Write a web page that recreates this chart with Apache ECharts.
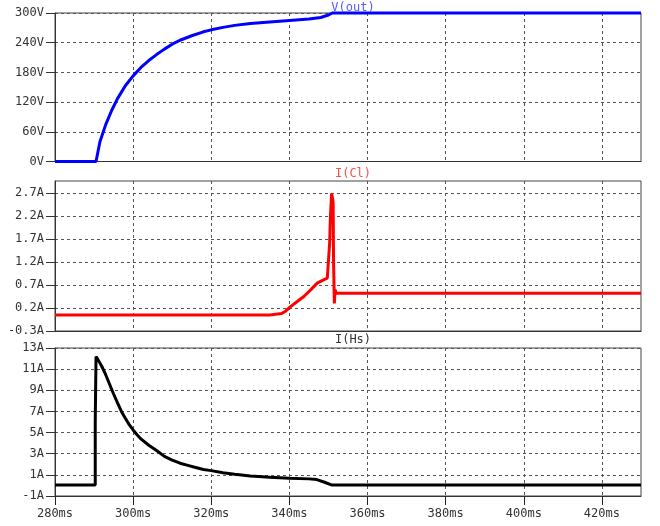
<!DOCTYPE html>
<html><head><meta charset="utf-8">
<script src="https://cdn.jsdelivr.net/npm/echarts@6/dist/echarts.min.js"></script>
<style>html,body{margin:0;padding:0;background:#fff}#c{width:660px;height:526px}</style>
</head><body><div id="c"></div><script>
// ---- data (time in ms) ----
var vTime = [280, 290.5, 291.5, 293, 294.5, 296, 298, 300, 302, 304, 306, 308, 310, 312, 315, 318, 320, 323, 326, 330, 335, 340, 345, 348, 350, 351, 430];
var vOut  = [0, 0, 40, 75, 103, 127, 153, 173, 190, 204, 216, 227, 237, 245, 254, 262, 266, 271, 275, 279, 282, 285, 288, 291, 296, 300, 300];

var iClTime = [280, 335, 335.5, 338, 339, 340.3, 342, 343.7, 345.5, 347.1, 348.5, 349.7, 350.1, 350.3, 350.5, 350.8, 351.0, 351.2, 351.3, 351.5, 351.7, 352, 430];
var iCl     = [0.05, 0.05, 0.07, 0.08, 0.13, 0.23, 0.34, 0.45, 0.6, 0.74, 0.8, 0.85, 0.88, 1.61, 2.18, 2.69, 2.6, 2.5, 1.24, 0.3, 0.6, 0.52, 0.52];

var iHsTime = [280, 290.3, 290.3, 290.5, 290.5, 291, 292, 293, 294, 295, 296, 297, 298, 299, 300, 301, 302, 304, 306, 308, 310, 312, 314, 316, 318, 320, 323, 326, 330, 335, 340, 345, 347, 349, 350.9, 430];
var iHs     = [0.05, 0.05, 6.0, 6.0, 12.2, 11.9, 11.25, 10.45, 9.55, 8.65, 7.8, 7.0, 6.35, 5.75, 5.25, 4.8, 4.4, 3.8, 3.3, 2.75, 2.4, 2.1, 1.9, 1.7, 1.5, 1.4, 1.2, 1.05, 0.9, 0.78, 0.68, 0.62, 0.55, 0.3, 0.03, 0.03];

var xTicks   = [280, 300, 320, 340, 360, 380, 400, 420];
var vTicks   = [0, 60, 120, 180, 240, 300];
var iClTicks = [-0.3, 0.2, 0.7, 1.2, 1.7, 2.2, 2.7];
var iHsTicks = [-1, 1, 3, 5, 7, 9, 11, 13];

function pairs(t, v) { return t.map(function (x, i) { return [x, v[i]]; }); }

var mono = 'DejaVu Sans Mono';
var grids = [
  { left: 55, right: 19, top: 13, height: 148.5 },
  { left: 55, right: 19, top: 181, height: 150 },
  { left: 55, right: 19, top: 348, height: 148 }
];
grids.forEach(function (g) { g.show = true; g.borderColor = '#444'; g.borderWidth = 1; g.backgroundColor = 'transparent'; });

function xAxis(i) {
  var last = i === 2;
  return {
    type: 'value', gridIndex: i, min: 280, max: 430, interval: 20,
    axisLine: { show: true, onZero: false, lineStyle: { color: '#333', width: 1 } },
    axisTick: { show: last, inside: false, length: 9, lineStyle: { color: '#222', width: 1 }, customValues: xTicks },
    axisLabel: { show: last, customValues: xTicks, margin: 12, fontFamily: mono, fontSize: 12, color: '#333',
      formatter: function (v) { return v + 'ms'; } },
    splitLine: { show: true, lineStyle: { type: [3, 3], color: '#555', width: 1 } }
  };
}
function yAxis(i, min, max, ticks, unit) {
  return {
    type: 'value', gridIndex: i, min: min, max: max,
    axisLine: { show: true, onZero: false, lineStyle: { color: '#333', width: 1 } },
    axisTick: { show: true, length: 9, lineStyle: { color: '#333' }, customValues: ticks },
    axisLabel: { customValues: ticks, margin: 11, fontFamily: mono, fontSize: 12, color: '#333',
      formatter: function (v) { return (Math.round(v * 10) / 10) + unit; } },
    splitLine: { show: true, lineStyle: { type: [3, 3], color: '#555', width: 1 } }
  };
}

var chart = echarts.init(document.getElementById('c'));
chart.setOption({
  animation: false,
  backgroundColor: '#fff',
  title: [
    { text: 'V(out)', left: 348, top: -3, textAlign: 'center', textStyle: { fontFamily: mono, fontSize: 12, fontWeight: 'normal', color: '#5a5aff' } },
    { text: 'I(Cl)', left: 348, top: 163, textAlign: 'center', textStyle: { fontFamily: mono, fontSize: 12, fontWeight: 'normal', color: '#ff4d4d' } },
    { text: 'I(Hs)', left: 348, top: 329, textAlign: 'center', textStyle: { fontFamily: mono, fontSize: 12, fontWeight: 'normal', color: '#333' } }
  ],
  grid: grids,
  xAxis: [xAxis(0), xAxis(1), xAxis(2)],
  yAxis: [
    yAxis(0, 0, 300, vTicks, 'V'),
    yAxis(1, -0.3, 2.96, iClTicks, 'A'),
    yAxis(2, -1, 13, iHsTicks, 'A')
  ],
  series: [
    { type: 'line', xAxisIndex: 0, yAxisIndex: 0, data: pairs(vTime, vOut), showSymbol: false, lineStyle: { color: '#0000ff', width: 3 }, clip: false },
    { type: 'line', xAxisIndex: 1, yAxisIndex: 1, data: pairs(iClTime, iCl), showSymbol: false, lineStyle: { color: '#ff0000', width: 3 } },
    { type: 'line', xAxisIndex: 2, yAxisIndex: 2, data: pairs(iHsTime, iHs), showSymbol: false, lineStyle: { color: '#000000', width: 3 } }
  ]
});
</script></body></html>
